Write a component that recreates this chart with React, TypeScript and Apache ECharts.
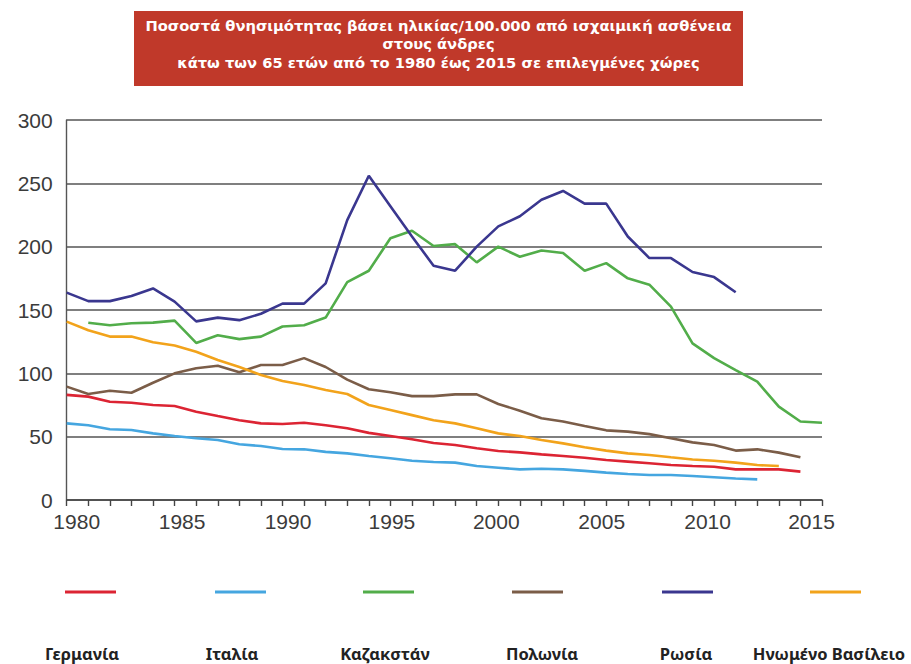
import React, { useEffect, useRef } from "react";
import * as echarts from "echarts";

// Age-standardised mortality per 100,000 from ischaemic heart disease, men under 65
const years = Array.from({ length: 36 }, (_, i) => 1980 + i);

const germanyStart = 1980;
const germany = [83, 81.6, 77.6, 76.8, 75, 74.2, 69.7, 66.3, 63, 60.5, 60, 61, 59, 56.6, 53, 50.5, 48, 45, 43.4, 40.8, 38.7, 37.6, 36, 34.7, 33.4, 31.6, 30.3, 29, 27.6, 26.8, 26.3, 24.2, 24.2, 24.2, 22.4];

const italyStart = 1980;
const italy = [60.5, 59, 55.8, 55.3, 52.6, 50.5, 48.7, 47.4, 44, 42.6, 40.3, 40, 38, 36.8, 34.7, 33, 31, 30, 29.5, 26.8, 25.5, 24.2, 24.7, 24.2, 23, 21.6, 20.5, 19.7, 19.7, 19, 18, 17, 16.3];

const kazakhstanStart = 1981;
const kazakhstan = [140, 138, 139.5, 140, 141.6, 124, 130, 127, 129, 137, 138, 144, 172, 181, 206.6, 212.6, 200.5, 202, 187.6, 200, 192, 197, 195, 181, 187, 175, 170, 152.6, 123.7, 112, 102.6, 93.4, 73.7, 62, 61];

const polandStart = 1980;
const poland = [89.5, 83.7, 86.3, 84.7, 92.6, 100, 104, 106, 100.8, 106.6, 106.6, 112, 105, 95, 87.4, 85, 82, 82, 83.4, 83.4, 75.8, 70.5, 64.5, 62, 58.4, 55, 54, 52, 48.7, 45.5, 43.4, 39, 40, 37.4, 33.7];

const russiaStart = 1980;
const russia = [163.7, 157, 157, 161, 167, 156.6, 141, 144, 142, 147, 155, 155, 171, 221, 256, 232, 208, 185, 181, 200, 216, 224, 237, 244, 234, 234, 208, 191, 191, 180, 176, 164];

const ukStart = 1980;
const uk = [140.8, 134, 129, 129, 124.5, 122, 117, 110.5, 105, 98.7, 94, 90.8, 86.8, 83.7, 75, 71, 67, 63, 60.5, 56.6, 52.6, 50.5, 47.4, 44.7, 41.6, 39, 36.8, 35.5, 33.7, 32, 31, 29.5, 27.6, 26.8];

const countryNames = ["Γερμανία", "Ιταλία", "Καζακστάν", "Πολωνία", "Ρωσία", "Ηνωμένο Βασίλειο"];
const countryColors = ["#dc2433", "#45a6e0", "#52ad4a", "#7b5d48", "#3a378f", "#f2a31b"];
const countrySeries = [
  { start: germanyStart, values: germany },
  { start: italyStart, values: italy },
  { start: kazakhstanStart, values: kazakhstan },
  { start: polandStart, values: poland },
  { start: russiaStart, values: russia },
  { start: ukStart, values: uk },
];

const yTicks = [0, 50, 100, 150, 200, 250, 300];
const titleLines = [
  "Ποσοστά θνησιμότητας βάσει ηλικίας/100.000 από ισχαιμική ασθένεια",
  "στους άνδρες",
  "κάτω των 65 ετών από το 1980 έως 2015 σε επιλεγμένες χώρες",
];

// legend layout: swatch x-ranges and label centres
const legendSwatchX = [65, 215, 363, 512, 662, 810];
const legendLabelX = [82, 232, 385, 542, 686, 829];

// small per-label nudges for the five-year labels on the x axis
const xLabelPad: number[][] = [
  [0, 0, 0, 20],
  [0, 0, 0, 15],
  [0, 0, 0, 11],
  [0, 0, 0, 3],
  [0, 4, 0, 0],
  [0, 9, 0, 0],
  [0, 13, 0, 0],
  [0, 21, 0, 0],
];

export default function App() {
  const ref = useRef<HTMLDivElement>(null);

  useEffect(() => {
    if (!ref.current) return;
    const chart = echarts.init(ref.current, undefined, { renderer: "svg" });

    const axisFont = {
      fontFamily: "Liberation Sans, Arial, sans-serif",
      fontSize: 21,
      color: "#3b3b3b",
    };
    const rich: Record<string, any> = {};
    xLabelPad.forEach((p, i) => {
      rich["a" + i] = { ...axisFont, padding: p };
    });

    const series = countrySeries.map((s, i) => ({
      name: countryNames[i],
      type: "line",
      showSymbol: false,
      symbol: "none",
      data: s.values.map((v, k) => [s.start + k, v]),
      lineStyle: { color: countryColors[i], width: 2.6 },
      itemStyle: { color: countryColors[i] },
      z: 3,
    }));

    const graphics: any[] = [
      {
        type: "rect",
        shape: { x: 134, y: 11, width: 609, height: 75 },
        style: { fill: "#c0392a" },
        z: 10,
      },
      {
        type: "text",
        x: 438.5,
        y: 43.5,
        style: {
          text: titleLines.join("\n"),
          fill: "#ffffff",
          fontFamily: "'DejaVu Sans', sans-serif",
          fontWeight: "bold",
          fontSize: 14.7,
          lineHeight: 18.5,
          align: "center",
          verticalAlign: "middle",
        },
        z: 11,
      },
      ...countryNames.map((n, i) => ({
        type: "line",
        shape: { x1: legendSwatchX[i], y1: 592, x2: legendSwatchX[i] + 51, y2: 592 },
        style: { stroke: countryColors[i], lineWidth: 3.2 },
      })),
      ...countryNames.map((n, i) => ({
        type: "text",
        x: legendLabelX[i],
        y: 663,
        style: {
          text: n,
          fill: "#222222",
          fontFamily: "'Noto Sans', 'Open Sans', sans-serif",
          fontWeight: "bold",
          fontSize: 16.5,
          lineHeight: 20,
          align: "center",
          verticalAlign: "bottom",
        },
      })),
    ];

    chart.setOption({
      animation: false,
      backgroundColor: "#ffffff",
      grid: { left: 66.7, right: 89, top: 120, bottom: 164, containLabel: false },
      xAxis: {
        type: "value",
        min: years[0],
        max: years[years.length - 1],
        interval: 1,
        axisLine: { show: true, onZero: false, lineStyle: { color: "#444444", width: 1.6 } },
        axisTick: { show: true, inside: false, length: 6, lineStyle: { color: "#444444", width: 1.4 } },
        splitLine: { show: false },
        axisLabel: {
          margin: 11,
          ...axisFont,
          showMinLabel: true,
          showMaxLabel: true,
          formatter: (v: number) => {
            if (v % 5 !== 0) return "";
            const idx = (v - 1980) / 5;
            return `{a${idx}|${v}}`;
          },
          rich,
        },
      },
      yAxis: {
        type: "value",
        min: yTicks[0],
        max: yTicks[yTicks.length - 1],
        interval: 50,
        axisLine: { show: true, lineStyle: { color: "#555555", width: 1.4 } },
        axisTick: { show: false },
        splitLine: { show: true, lineStyle: { color: "#555555", width: 1.5 } },
        axisLabel: {
          ...axisFont,
          margin: 14,
          padding: [10, 0, 0, 0],
        },
      },
      series,
      graphic: graphics,
    });

    return () => chart.dispose();
  }, []);

  return (
    <div
      ref={ref}
      style={{ position: "fixed", left: 0, top: 0, width: 911, height: 664 }}
    />
  );
}
